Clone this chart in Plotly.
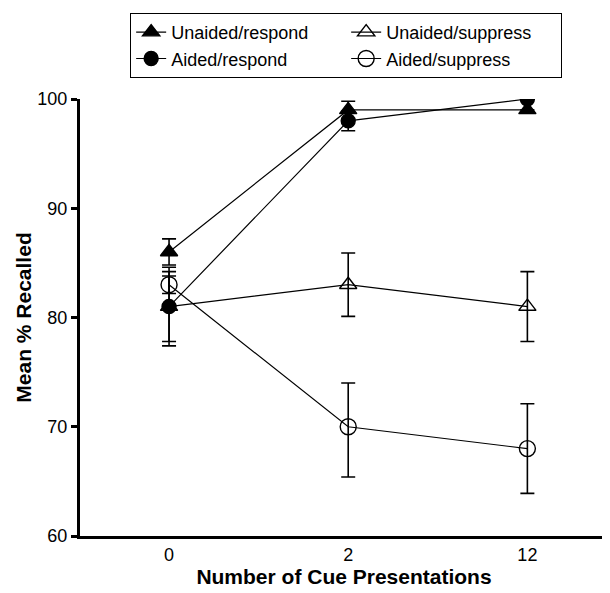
import plotly.graph_objects as go

categories = ["0", "2", "12"]
x_pos = [0, 1, 2]

unaided_respond = [86, 99, 99]
unaided_respond_err = [1.2, 0.8, 0.0]
aided_respond = [81, 98, 100]
aided_respond_err = [3.6, 0.9, 0.0]
unaided_suppress = [81, 83, 81]
unaided_suppress_err = [3.2, 2.9, 3.2]
aided_suppress = [83, 70, 68]
aided_suppress_err_plus = [0.8, 4.0, 4.1]
aided_suppress_err_minus = [0.8, 4.6, 4.1]

fig = go.Figure()

def add(name, y, ep, em, symbol, size):
    fig.add_trace(go.Scatter(
        x=x_pos, y=y, name=name, mode="lines+markers",
        line=dict(color="black", width=1.2),
        marker=dict(symbol=symbol, size=size, color="black",
                    line=dict(color="black", width=1.4)),
        error_y=dict(type="data", array=ep, arrayminus=em, symmetric=False,
                     color="black", thickness=1.6, width=7),
    ))

add("Unaided/respond", unaided_respond, unaided_respond_err, unaided_respond_err, "triangle-up", 15)
add("Unaided/suppress", unaided_suppress, unaided_suppress_err, unaided_suppress_err, "triangle-up-open", 15)
add("Aided/respond", aided_respond, aided_respond_err, aided_respond_err, "circle", 14)
add("Aided/suppress", aided_suppress, aided_suppress_err_plus, aided_suppress_err_minus, "circle-open", 16)

# page body has an 8px margin, so the figure is sized 8px smaller
fig.update_layout(
    width=602, height=585,
    margin=dict(l=72, r=2, t=91, b=57),
    paper_bgcolor="white", plot_bgcolor="white",
    font=dict(family="Liberation Sans, Arial", size=18, color="black"),
    showlegend=True,
    legend=dict(
        orientation="h", x=0.095, xanchor="left", y=1.197, yanchor="top",
        bordercolor="black", borderwidth=1, bgcolor="white",
        font=dict(size=18), entrywidth=170, traceorder="normal",
    ),
)
fig.update_xaxes(
    range=[-0.497, 2.45], tickvals=x_pos, ticktext=categories,
    showline=True, linecolor="black", linewidth=3, ticks="", showgrid=False,
    zeroline=False, tickfont=dict(size=18),
    title=dict(text="<b>Number of Cue Presentations</b>", font=dict(size=21), standoff=6),
)
fig.update_yaxes(
    range=[60, 100], tickvals=[60, 70, 80, 90, 100],
    showline=True, linecolor="black", linewidth=3, ticks="outside", ticklen=6,
    tickwidth=3, tickcolor="black", showgrid=False, zeroline=False,
    tickfont=dict(size=18),
    title=dict(text="<b>Mean % Recalled</b>", font=dict(size=21), standoff=1),
)

fig.write_html("out.html")
